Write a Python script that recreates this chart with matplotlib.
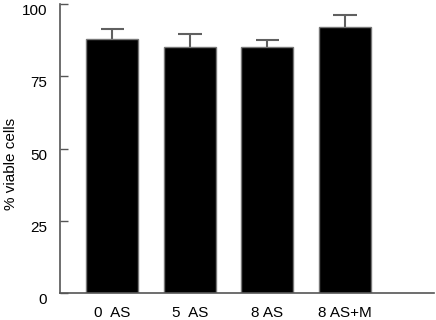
import matplotlib
matplotlib.use("Agg")
import matplotlib.pyplot as plt

# values
groups = ["0  AS", "5  AS", "8 AS", "8 AS+M"]
viable = [88.0, 85.3, 85.3, 92.1]
sem = [3.4, 4.4, 2.4, 4.1]

plt.rcParams['font.family'] = ['Liberation Sans', 'DejaVu Sans']

fig = plt.figure(figsize=(4.36, 3.2), dpi=100)
ax = fig.add_axes([0.1376, 0.0844, 0.858, 0.903])

pos = list(range(len(groups)))
ax.bar(pos, viable, width=0.67, color='black', edgecolor='#777777', linewidth=1.0, zorder=2)

# upper half of the error bars only
tops = [v + e for v, e in zip(viable, sem)]
cap = 0.15
ax.vlines(pos, viable, tops, color='#606060', linewidth=1.5, zorder=1)
ax.hlines(tops, [p - cap for p in pos], [p + cap for p in pos], color='#606060',
          linewidth=1.5, zorder=1)

ax.set_xlim(-0.676, 4.15)
ax.set_ylim(0, 100)
ax.set_yticks([0, 25, 50, 75, 100])
ax.set_xticks(pos)
ax.set_xticklabels(groups)

for side in ['top', 'right']:
    ax.spines[side].set_visible(False)
for side in ['left', 'bottom']:
    ax.spines[side].set_color('#555555')
    ax.spines[side].set_linewidth(1.2)

ax.tick_params(axis='y', direction='in', length=5.8, width=1.0, color='#555555',
               pad=9.4, labelsize=11)
ax.tick_params(axis='x', length=0, pad=9.5, labelsize=11)
plt.setp(ax.get_yticklabels(), va='top')

ax.set_ylabel('% viable cells', fontsize=11)
ax.yaxis.set_label_coords(-0.112, 0.446)

fig.savefig('out.png', dpi=100)
